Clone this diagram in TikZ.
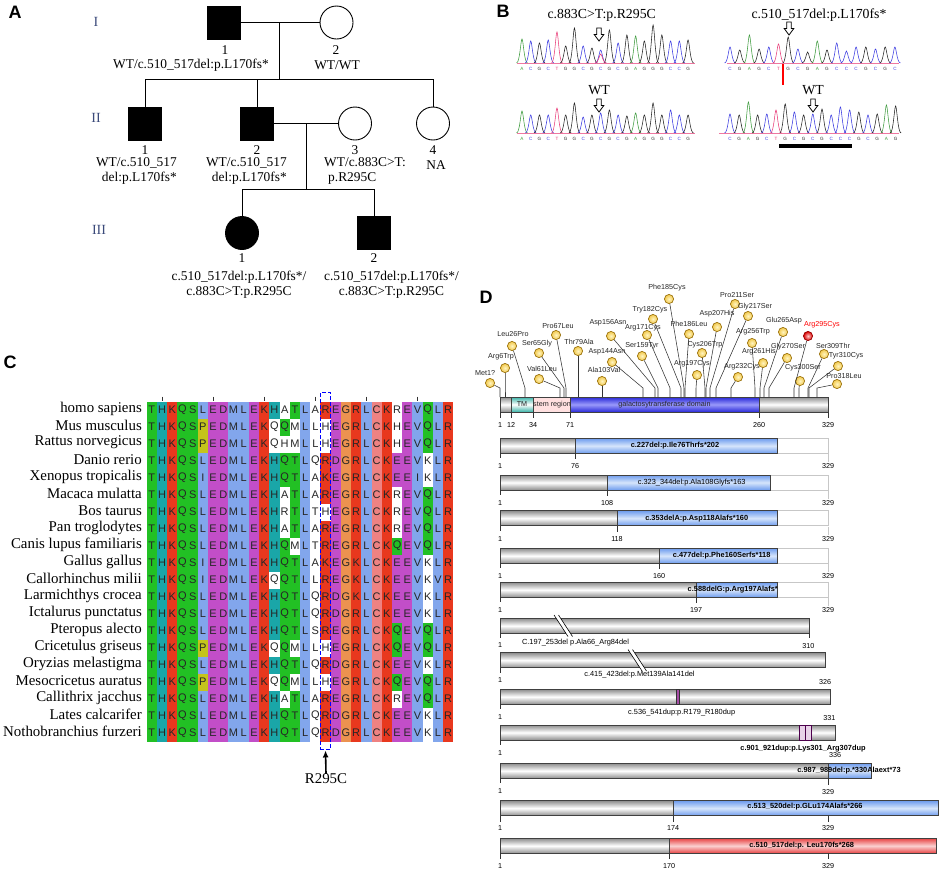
\documentclass[tikz,border=0pt]{standalone}
\usepackage{fontspec}
\setmainfont{Liberation Serif}
\setsansfont{Liberation Sans}
\usetikzlibrary{calc,positioning,arrows.meta}

\definecolor{genblue}{HTML}{3B4A7A}
\definecolor{alng}{HTML}{22C024}
\definecolor{alnt}{HTML}{1AA6A8}
\definecolor{alnr}{HTML}{E8381E}
\definecolor{alnb}{HTML}{82A6EC}
\definecolor{alnm}{HTML}{C24EC8}
\definecolor{alno}{HTML}{EC9250}
\definecolor{alnp}{HTML}{EE8282}
\definecolor{alny}{HTML}{C4C41C}
\definecolor{alnw}{HTML}{FFFFFF}
\definecolor{baseA}{HTML}{3C9A3C}
\definecolor{baseC}{HTML}{3A3AE0}
\definecolor{baseG}{HTML}{222222}
\definecolor{baseT}{HTML}{E83C78}
\definecolor{lolliyel}{HTML}{F2C94C}
\definecolor{lollilight}{HTML}{FFF4C0}
\definecolor{lolliedge}{HTML}{9C7410}
\definecolor{barGray}{HTML}{8E8E8E}
\definecolor{fsBlue}{HTML}{6E9CEE}
\definecolor{fsLight}{HTML}{D6E5FB}
\definecolor{domBlue}{HTML}{2828D8}
\definecolor{domLight}{HTML}{9A9AFA}
\definecolor{tmTeal}{HTML}{38B2A6}
\definecolor{redBar}{HTML}{E84444}
\definecolor{redLight}{HTML}{FAD0D0}

% clustal colours: column default, then residues that break the column
\makeatletter
\foreach \k [count=\c] in {g,t,r,g,g,b,m,m,b,b,m,r,t,g,g,b,w,r,m,o,r,b,p,r,m,m,b,g,b,r}
  {\expandafter\xdef\csname alncol@\c\endcsname{\k}}
\newcommand\setcolexc[3]{\expandafter\def\csname alnexc@#1@#2\endcsname{#3}}
\newcommand\getcellcol[2]{%
  \ifcsname alnexc@#1@#2\endcsname
    \edef\cellcol{\csname alnexc@#1@#2\endcsname}%
  \else
    \edef\cellcol{\csname alncol@#1\endcsname}%
  \fi}
\makeatother
\setcolexc{6}{P}{y}
\setcolexc{13}{Q}{w}
\setcolexc{14}{A}{w}\setcolexc{14}{H}{w}\setcolexc{14}{R}{w}
\setcolexc{15}{M}{w}
\setcolexc{18}{H}{w}
\setcolexc{25}{R}{w}\setcolexc{25}{H}{w}\setcolexc{25}{Q}{g}
\setcolexc{28}{K}{w}

\newcommand\tracepeak[4]{%
  \draw[#4, line width=0.55pt] ({#1-5.5},#2) .. controls ({#1-2.2},#2) and ({#1-1.2},{#2-#3}) .. (#1,{#2-#3})
    .. controls ({#1+1.2},{#2-#3}) and ({#1+2.2},#2) .. ({#1+5.5},#2);}
\newcommand\hollowdown[2]{%
  \draw[line width=0.8pt, fill=white] ({#1-2.2},#2) -- ({#1+2.2},#2) -- ({#1+2.2},{#2+6.5}) -- ({#1+4.8},{#2+6.5})
    -- (#1,{#2+13}) -- ({#1-4.8},{#2+6.5}) -- ({#1-2.2},{#2+6.5}) -- cycle;}

\begin{document}
\begin{tikzpicture}[x=1pt, y=-1pt,
panel/.style={font=\sffamily\bfseries\fontsize{18}{18}\selectfont, inner sep=0pt},
gen/.style={font=\fontsize{14}{14}\selectfont, text=genblue, inner sep=0pt},
male/.style={draw, line width=0.9pt, fill=black, minimum size=33pt, inner sep=0pt},
female/.style={draw, circle, line width=0.9pt, minimum size=33pt, inner sep=0pt},
ped/.style={line width=0.9pt},
ptext/.style={font=\fontsize{13.4}{15}\selectfont, inner sep=0pt},
btext/.style={font=\fontsize{13.8}{15}\selectfont, inner sep=0pt},
seqlet/.style={font=\sffamily\fontsize{4.6}{5}\selectfont, inner sep=0pt},
spec/.style={font=\fontsize{14.9}{15}\selectfont, inner sep=0pt},
res/.style={font=\sffamily\fontsize{11}{11}\selectfont, text=black!85, inner sep=0pt},
lolli/.style={circle, draw=lolliedge, line width=0.7pt, inner color=lollilight, outer color=lolliyel, minimum size=9.2pt, inner sep=0pt},
stick/.style={draw=black!80, line width=0.55pt},
mutname/.style={font=\sffamily\fontsize{7.2}{8}\selectfont, text=black!85, inner sep=0pt},
num/.style={font=\sffamily\fontsize{7.2}{8}\selectfont, inner sep=0pt},
mutlab/.style={font=\sffamily\bfseries\fontsize{7.4}{8}\selectfont, inner sep=0pt},
mutlabn/.style={font=\sffamily\fontsize{7.4}{8}\selectfont, inner sep=0pt},
tick/.style={line width=0.6pt, black!80},
ghost/.style={draw=black!22, line width=0.6pt},
gbar/.style={draw=black!75, line width=0.5pt, top color=barGray, bottom color=barGray, middle color=white},
fsbar/.style={draw=black!75, line width=0.5pt, top color=fsBlue, bottom color=fsBlue, middle color=fsLight},
dombar/.style={draw=black!75, line width=0.5pt, top color=domBlue, bottom color=domBlue, middle color=domLight},
tmbar/.style={draw=black!75, line width=0.5pt, top color=tmTeal, bottom color=tmTeal, middle color=white},
redbar/.style={draw=black!75, line width=0.5pt, top color=redBar, bottom color=redBar, middle color=redLight},
]
\useasboundingbox (0,0) rectangle (941,871);

% A: pedigree
\node[panel] (labA) at (15,12) {A};
\node[gen] (genI) at (96,22) {I};
\node[gen] (genII) at (96,118) {II};
\node[gen] (genIII) at (99,230) {III};

\node[male] (I1) at (224,22.5) {};
\node[female] (I2) at (336.5,22.5) {};
\node[male] (II1) at (145,123.5) {};
\node[male] (II2) at (257,123.5) {};
\node[female] (II3) at (355,123.5) {};
\node[female] (II4) at (433,123.5) {};
\node[female, fill=black] (III1) at (242,233) {};
\node[male] (III2) at (374,233) {};

\coordinate (mate1) at (279.5,22.5);
\coordinate (sib1) at (279.5,79);
\coordinate (mate2) at (306,123.5);
\coordinate (sib2) at (306,189);
\draw[ped] (I1) -- (I2);
\draw[ped] (mate1) -- (sib1);
\draw[ped] (II1.north |- sib1) -- (II4.north |- sib1);
\foreach \n in {II1,II2,II4} \draw[ped] (\n.north) -- (\n.north |- sib1);
\draw[ped] (II2) -- (II3);
\draw[ped] (mate2) -- (sib2);
\draw[ped] (III1.north |- sib2) -- (III2.north |- sib2);
\foreach \n in {III1,III2} \draw[ped] (\n.north) -- (\n.north |- sib2);

\node[ptext] (I1n) at (225,50) {1};
\node[ptext] (I1g) at (191,65) {WT/c.510\_517del:p.L170fs*};
\node[ptext] (I2n) at (336,50) {2};
\node[ptext] (I2g) at (337,65) {WT/WT};
\node[ptext] (II1n) at (145,150) {1};
\node[ptext, align=right, anchor=east] (II1g) at (177,170.5) {WT/c.510\_517\\del:p.L170fs*};
\node[ptext] (II2n) at (257,150) {2};
\node[ptext, align=right, anchor=east] (II2g) at (287,170.5) {WT/c.510\_517\\del:p.L170fs*};
\node[ptext] (II3n) at (355,150) {3};
\node[ptext, align=left, anchor=west] (II3g) at (324,170.5) {WT/c.883C>T:\\\hspace*{4pt}p.R295C};
\node[ptext] (II4n) at (433,150) {4};
\node[ptext] (II4g) at (436,165) {NA};
\node[ptext] (III1n) at (242,258) {1};
\node[ptext, align=center] (III1g) at (239,284.5) {c.510\_517del:p.L170fs*/\\c.883C>T:p.R295C};
\node[ptext] (III2n) at (374,258) {2};
\node[ptext, align=center] (III2g) at (391.5,284.5) {c.510\_517del:p.L170fs*/\\c.883C>T:p.R295C};

% B: sequencing traces
\node[panel] (labB) at (503,11) {B};
\node[btext] (mutL) at (601.7,15) {c.883C>T:p.R295C};
\node[btext] (mutR) at (819,15) {c.510\_517del:p.L170fs*};
\node[btext] (wtL) at (599,90) {WT};
\node[btext] (wtR) at (813,90) {WT};
\hollowdown{599}{28}
\hollowdown{789}{22}
\hollowdown{599}{99}
\hollowdown{813}{99}

\draw[baseT!70, line width=0.6pt] (517,63.4) -- (695,63.4);
\foreach \b/\h [count=\i] in {A/24,C/22,G/20,C/23,T/31,G/17,G/35,C/17,G/15,C/13,G/33,C/20,G/28,A/27,G/22,G/38,G/28,C/22,C/22,G/23} {
  \pgfmathsetmacro\px{522+(\i-1)*8.74}
  \tracepeak{\px}{63}{\h}{base\b}
  \node[seqlet, text=base\b] (tl\i) at (\px,69) {\b};
}
\tracepeak{600.7}{63}{9}{baseT}
\draw[baseT!70, line width=0.6pt] (727,63.4) -- (899,63.4);
\foreach \b/\h [count=\i] in {C/16,G/13,A/28,G/14,C/16,T/19,G/26,C/14,G/11,A/22,G/13,C/20,C/12,C/16,G/16,C/14,G/16,C/16} {
  \pgfmathsetmacro\px{730+(\i-1)*9.7}
  \tracepeak{\px}{63}{\h}{base\b}
  \node[seqlet, text=base\b] (tr\i) at (\px,69) {\b};
}
\draw[red, line width=1.4pt] (783,64) -- (783,85);
\draw[baseT!70, line width=0.6pt] (517,133.4) -- (695,133.4);
\foreach \b/\h [count=\i] in {A/22,C/18,G/18,C/18,T/25,G/18,G/30,C/16,G/18,C/20,G/23,C/18,G/17,A/20,G/18,G/30,G/18,C/23,C/18,G/18} {
  \pgfmathsetmacro\px{522+(\i-1)*8.74}
  \tracepeak{\px}{133}{\h}{base\b}
  \node[seqlet, text=base\b] (bl\i) at (\px,139) {\b};
}
\draw[baseT!70, line width=0.6pt] (719,133.4) -- (899,133.4);
\foreach \b/\h [count=\i] in {C/19,G/18,A/31,G/18,C/19,T/23,G/29,C/21,G/18,C/19,G/24,C/18,C/26,C/23,G/21,C/18,G/19,A/28,G/27} {
  \pgfmathsetmacro\px{730+(\i-1)*9.2}
  \tracepeak{\px}{133}{\h}{base\b}
  \node[seqlet, text=base\b] (br\i) at (\px,139) {\b};
}
\fill[black] (779,144) rectangle (852,148);

% C: alignment
\node[panel] (labC) at (10,362) {C};
\foreach \sp [count=\r] in {homo sapiens, Mus musculus, Rattus norvegicus, Danio rerio, Xenopus tropicalis,
    Macaca mulatta, Bos taurus, Pan troglodytes, Canis lupus familiaris, Gallus gallus,
    Callorhinchus milii, Larmichthys crocea, Ictalurus punctatus, Pteropus alecto, Cricetulus griseus,
    Oryzias melastigma, Mesocricetus auratus, Callithrix jacchus, Lates calcarifer, Nothobranchius furzeri}
  \node[spec, anchor=east] (sp\r) at (142,{408.5+(\r-1)*17}) {\sp};
\foreach \seq [count=\r] in {
    {T,H,K,Q,S,L,E,D,M,L,E,K,H,A,T,L,A,R,E,G,R,L,C,K,R,E,V,Q,L,R},
    {T,H,K,Q,S,P,E,D,M,L,E,K,Q,Q,M,L,L,H,E,G,R,L,C,K,H,E,V,Q,L,R},
    {T,H,K,Q,S,P,E,D,M,L,E,K,Q,H,M,L,L,H,E,G,R,L,C,K,H,E,V,Q,L,R},
    {T,H,K,Q,S,L,E,D,M,L,E,K,H,Q,T,L,Q,R,D,G,R,L,C,K,E,E,V,K,L,R},
    {T,H,K,Q,S,I,E,D,M,L,E,K,H,Q,T,L,A,K,E,G,R,L,C,K,E,E,I,K,L,R},
    {T,H,K,Q,S,L,E,D,M,L,E,K,H,A,T,L,A,R,E,G,R,L,C,K,R,E,V,Q,L,R},
    {T,H,K,Q,S,L,E,D,M,L,E,K,H,R,T,L,T,H,E,G,R,L,C,K,R,E,V,Q,L,R},
    {T,H,K,Q,S,L,E,D,M,L,E,K,H,A,T,L,A,R,E,G,R,L,C,K,R,E,V,Q,L,R},
    {T,H,K,Q,S,L,E,D,M,L,E,K,H,Q,M,L,T,R,E,G,R,L,C,K,Q,E,V,Q,L,R},
    {T,H,K,Q,S,I,E,D,M,L,E,K,H,Q,T,L,A,K,E,G,K,L,C,K,E,E,V,K,L,R},
    {T,H,K,Q,S,I,E,D,M,L,E,K,Q,Q,T,L,L,R,E,G,K,L,C,K,E,E,V,K,V,R},
    {T,H,K,Q,S,L,E,D,M,L,E,K,H,Q,T,L,Q,R,D,G,K,L,C,K,E,E,V,K,L,R},
    {T,H,K,Q,S,L,E,D,M,L,E,K,H,Q,T,L,Q,R,D,G,R,L,C,K,E,E,V,K,L,R},
    {T,H,K,Q,S,L,E,D,M,L,E,K,H,Q,T,L,S,R,E,G,R,L,C,K,Q,E,V,Q,L,R},
    {T,H,K,Q,S,P,E,D,M,L,E,K,Q,Q,M,L,L,H,E,G,R,L,C,K,Q,E,V,Q,L,R},
    {T,H,K,Q,S,L,E,D,M,L,E,K,H,Q,T,L,Q,R,D,G,R,L,C,K,E,E,V,K,L,R},
    {T,H,K,Q,S,P,E,D,M,L,E,K,Q,Q,M,L,L,H,E,G,R,L,C,K,Q,E,V,Q,L,R},
    {T,H,K,Q,S,L,E,D,M,L,E,K,H,A,T,L,A,R,E,G,R,L,C,K,R,E,V,Q,L,R},
    {T,H,K,Q,S,L,E,D,M,L,E,K,H,Q,T,L,Q,R,D,G,R,L,C,K,E,E,V,K,L,R},
    {T,H,K,Q,S,L,E,D,M,L,E,K,H,Q,T,L,Q,R,D,G,R,L,C,K,E,E,V,K,L,R}} {
  \foreach \aa [count=\cc] in \seq {
    \getcellcol{\cc}{\aa}
    \fill[aln\cellcol] ({146.7+(\cc-1)*10.22},{401.5+(\r-1)*17}) rectangle ++(10.4,17.2);
    \node[res] (a\r-\cc) at ({146.7+(\cc-0.5)*10.22},{410+(\r-1)*17}) {\aa};
  }
}
\foreach \c in {2,7,12,17,22,27}
  \draw[tick] ({146.7+(\c-0.5)*10.22},396.5) -- ++(0,4);
\node[draw=blue, dashed, dash pattern=on 4pt off 2pt, line width=1.3pt, minimum width=10.4pt, minimum height=357pt, inner sep=0pt] (hl) at (325.5,571.3) {};
\node[spec] (r295) at (326,779) {R295C};
\draw[-{Latex[length=7pt,width=6pt]}, line width=1.6pt] (r295.north) -- (hl.south);

% D: GALT protein and variants
\node[panel] (labD) at (486,297) {D};
\draw[gbar] (500,397) rectangle (828,412);
\draw[tmbar] (511,397) rectangle (533,412);
\draw[fill=red!12, draw=black!75, line width=0.5pt] (533,397) rectangle (570,412);
\draw[dombar] (570,397) rectangle (759,412);
\node[mutname] (tm) at (522,404.5) {TM};
\node[mutname] (stem) at (552,404.5) {stem region};
\node[mutname] (gtd) at (664.5,404.5) {galactosytransferase domain};
\foreach \p in {1,12,34,71,260,329} {
  \draw[tick] ({499+\p},412) -- ++(0,6);
  \node[num] (d\p) at ({499+\p},425) {\p};
}
\foreach \lab/\lx/\ly/\cx/\cy/\p [count=\i] in {Met1?/485/373/490/383/1, Arg6Trp/501/357/505/368/6,
    Leu26Pro/513/334/512/346/26, Ser65Gly/537/344/539/353/65, Val61Leu/542/369/539/379/61,
    Pro67Leu/558/326/556/335/67, Thr79Ala/579/342/578/351/79, Asp156Asn/608/323/611/336/156,
    Asp144Asn/607/352/612/362/144, Ala103Val/604/370/602/381/103, Ser159Tyr/642/346/642/356/159,
    Arg171Cys/643/328/647/335/171, Try182Cys/650/310/653/319/182, Phe185Cys/667/288/669/299/185,
    Phe186Leu/689/324/689/334/186, Arg197Cys/692/364/697/375/197, Cys206Trp/705/345/702/353/206,
    Asp207His/717/314/717/327/207, Pro211Ser/737/295/735/304/211, Gly217Ser/755/307/748/316/217,
    Arg232Cys/742/367/738/377/232, Arg256Trp/753/332/752/343/256, Arg261His/759/352/763/363/261,
    Glu265Asp/784/321/783/332/265, Gly270Ser/788/347/787/358/270, Cys300Ser/803/368/800/381/300,
    Ser309Thr/833/346/824/354/309, Tyr310Cys/846/356/838/366/310, Pro318Leu/844/376/837/384/318} {
  \node[lolli] (lp\i) at (\cx,\cy) {};
  \draw[stick] (lp\i) -- ({499+\p},388) -- ({499+\p},397);
  \node[mutname] (ln\i) at (\lx,\ly) {\lab};
}
\node[lolli, draw=red!60!black, inner color=red!20, outer color=red!85!black] (lpR) at (808,336) {};
\draw[stick] (lpR) -- (794,388) -- (794,397);
\node[mutname, text=red] (lnR) at (822,325) {Arg295Cys};

% frameshift variants
\foreach \yt/\p/\e [count=\k] in {438.3/76/777, 475/108/770, 510.7/118/777, 548.3/160/777, 582.3/197/777} {
  \draw[ghost] (500,\yt) rectangle (828,{\yt+15});
  \draw[gbar] (500,\yt) rectangle ({499+\p},{\yt+15});
  \draw[fsbar] ({499+\p},\yt) rectangle (\e,{\yt+15});
  \draw[tick] (500,{\yt+15}) -- ++(0,5);
  \node[num] (fs\k a) at (500,{\yt+28}) {1};
  \draw[tick] ({499+\p},{\yt+15}) -- ++(0,6);
  \node[num] (fs\k b) at ({499+\p},{\yt+28}) {\p};
  \draw[ghost] (828,{\yt+16}) -- ++(0,8);
  \node[num] (fs\k c) at (828,{\yt+28}) {329};
}
\node[mutlab] (fs1) at (675,445.8) {c.227del:p.Ile76Thrfs*202};
\node[mutlabn] (fs2) at (691.7,482.5) {c.323\_344del:p.Ala108Glyfs*163};
\node[mutlab] (fs3) at (696.7,518.3) {c.353delA:p.Asp118Alafs*160};
\node[mutlab] (fs4) at (721.7,555.8) {c.477del:p.Phe160Serfs*118};
\node[mutlab, anchor=east] (fs5) at (778,589.8) {c.588delG:p.Arg197Alafs*};

% in-frame deletions and duplications
\draw[gbar] (500,618.3) rectangle (809,633.3);
\fill[white] (554,615) -- (558.5,615) -- (572.5,636.5) -- (568,636.5) -- cycle;
\draw[line width=0.6pt] (554,615) -- (568,636.5) (558.5,615) -- (572.5,636.5);
\node[mutlabn] (dl1) at (575.5,642.3) {C.197\_253del p.Ala66\_Arg84del};
\draw[tick] (500,633.3) -- ++(0,5); \node[num] (dl1a) at (500,645.5) {1};
\draw[tick] (809,633.3) -- ++(0,5); \node[num] (dl1b) at (808.3,645.7) {310};

\draw[gbar] (500,652.7) rectangle (825,667.7);
\fill[white] (628,649.5) -- (632.5,649.5) -- (646.5,671) -- (642,671) -- cycle;
\draw[line width=0.6pt] (628,649.5) -- (642,671) (632.5,649.5) -- (646.5,671);
\node[mutlabn] (dl2) at (639.5,674.3) {c.415\_423del:p.Met139Ala141del};
\draw[tick] (500,667.7) -- ++(0,5); \node[num] (dl2a) at (500,680) {1};
\node[num] (dl2b) at (825,681.7) {326};

\draw[gbar] (500,689.3) rectangle (830,704.3);
\draw[fill=violet!70, draw=black!80, line width=0.5pt] (676,689.3) rectangle (679.3,704.3);
\node[mutlabn] (dp1) at (681.7,712.3) {c.536\_541dup:p.R179\_R180dup};
\draw[tick] (500,704.3) -- ++(0,5); \node[num] (dp1a) at (500,717) {1};
\node[num] (dp1b) at (829.3,717.7) {331};

\draw[gbar] (500,725) rectangle (835,740);
\draw[fill=violet!18, draw=violet!60!black, line width=0.5pt] (799.3,725) rectangle (805.3,740) (805.3,725) rectangle (811.7,740);
\node[mutlab] (dp2) at (803,749) {c.901\_921dup:p.Lys301\_Arg307dup};
\draw[tick] (500,740) -- ++(0,5); \node[num] (dp2a) at (500,753) {1};
\node[num] (dp2b) at (835,755) {336};

% extensions
\draw[gbar] (500,763.3) rectangle (828,778.3);
\draw[fsbar] (828,763.3) rectangle (871.7,778.3);
\node[mutlab] (ex1) at (849,770.7) {c.987\_989del:p.*330Alaext*73};
\draw[tick] (500,778.3) -- ++(0,5); \node[num] (ex1a) at (500,791) {1};
\draw[tick] (828,778.3) -- ++(0,7); \node[num] (ex1b) at (828,791.7) {329};

\draw[gbar] (500,800.7) rectangle (673,815.7);
\draw[fsbar] (673,800.7) rectangle (938.3,815.7);
\node[mutlab] (ex2) at (805,806.7) {c.513\_520del:p.GLu174Alafs*266};
\foreach \p in {1,174,329} {
  \draw[tick] ({499+\p},815.7) -- ++(0,6);
  \node[num] (ex2n\p) at ({499+\p},828) {\p};
}

\draw[gbar] (500,838.3) rectangle (669,853.3);
\draw[redbar] (669,838.3) rectangle (936.7,853.3);
\node[mutlab] (ex3) at (801.7,845.7) {c.510\_517del:p. Leu170fs*268};
\foreach \p in {1,170,329} {
  \draw[tick] ({499+\p},853.3) -- ++(0,6);
  \node[num] (ex3n\p) at ({499+\p},866) {\p};
}
\end{tikzpicture}
\end{document}
